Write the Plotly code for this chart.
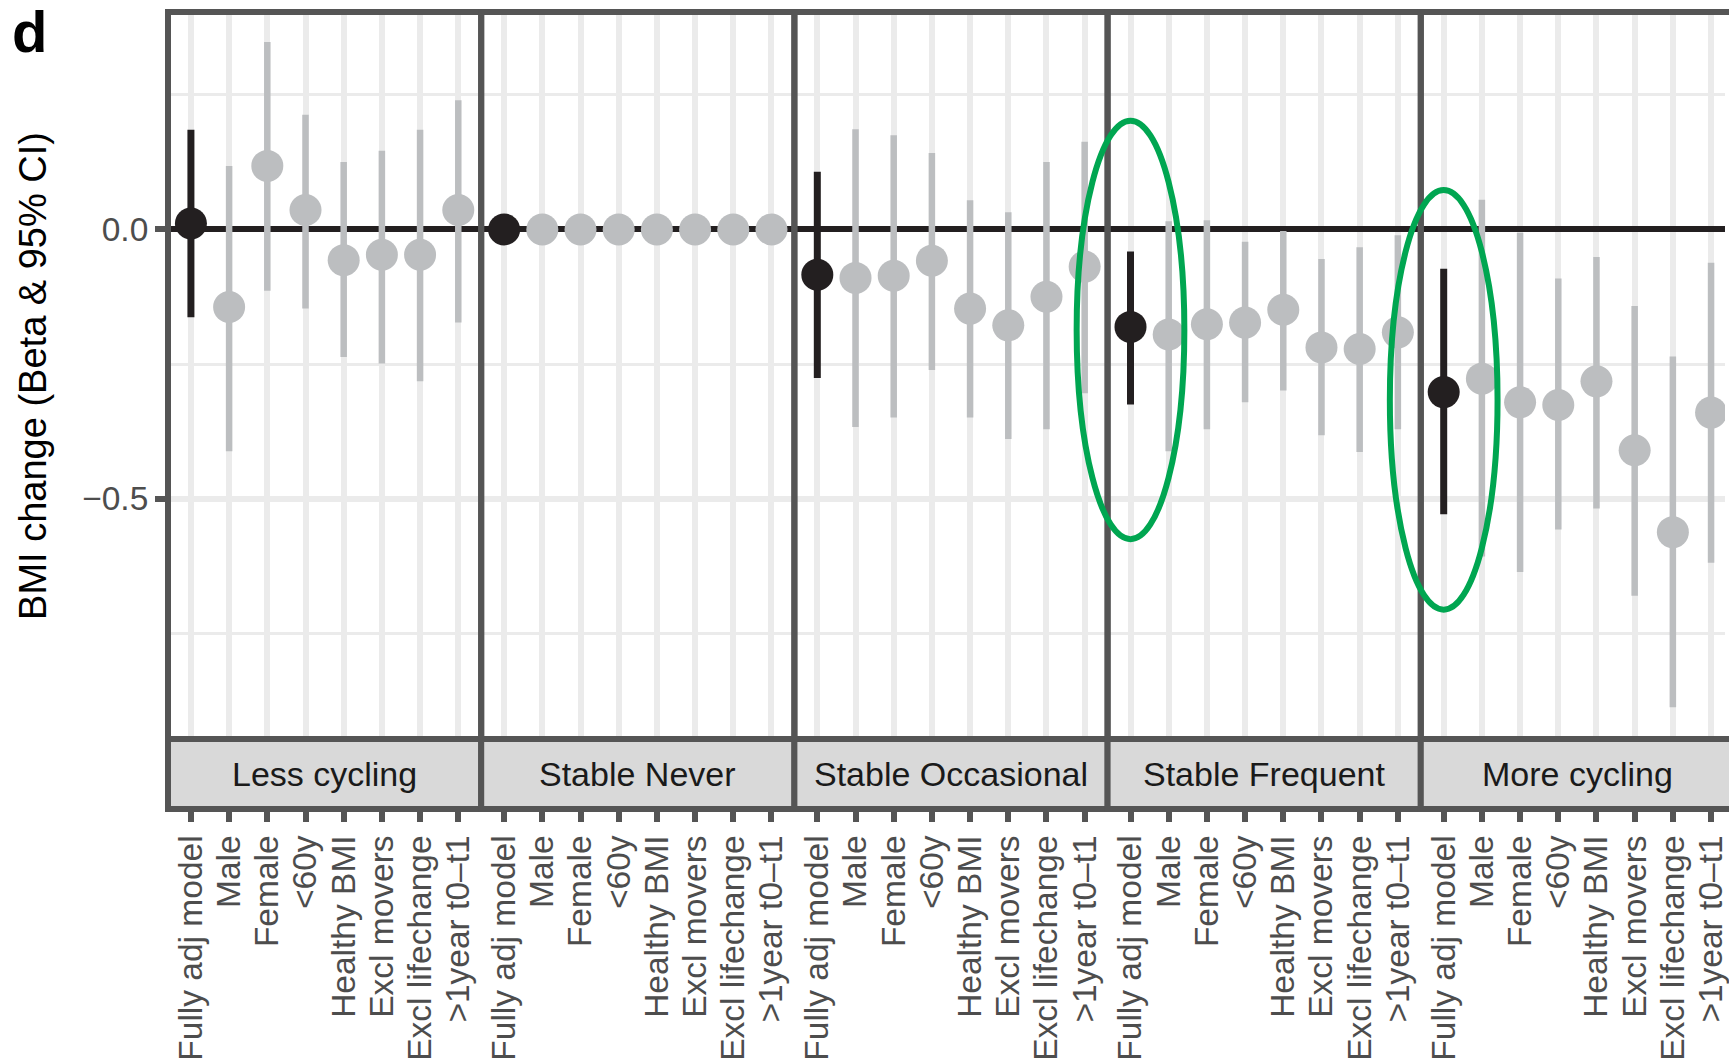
import plotly.graph_objects as go

# ---------------- data ----------------
categories = ["Fully adj model", "Male", "Female", "<60y", "Healthy BMI",
              "Excl movers", "Excl lifechange", ">1year t0\u2013t1"]
groups = ["Less cycling", "Stable Never", "Stable Occasional", "Stable Frequent", "More cycling"]

less_beta = [0.011, -0.144, 0.118, 0.036, -0.057, -0.047, -0.047, 0.036]
less_lo = [-0.163, -0.412, -0.114, -0.147, -0.237, -0.249, -0.282, -0.173]
less_hi = [0.185, 0.118, 0.348, 0.213, 0.125, 0.146, 0.185, 0.240]

never_beta = [0.0, 0.0, 0.0, 0.0, 0.0, 0.0, 0.0, 0.0]
never_lo = [0.0, 0.0, 0.0, 0.0, 0.0, 0.0, 0.0, 0.0]
never_hi = [0.0, 0.0, 0.0, 0.0, 0.0, 0.0, 0.0, 0.0]

occ_beta = [-0.084, -0.090, -0.086, -0.058, -0.147, -0.178, -0.125, -0.069]
occ_lo = [-0.276, -0.367, -0.349, -0.261, -0.349, -0.389, -0.371, -0.304]
occ_hi = [0.107, 0.186, 0.175, 0.142, 0.054, 0.032, 0.125, 0.163]

freq_beta = [-0.181, -0.195, -0.176, -0.173, -0.149, -0.219, -0.222, -0.191]
freq_lo = [-0.325, -0.412, -0.371, -0.321, -0.299, -0.382, -0.413, -0.371]
freq_hi = [-0.041, 0.015, 0.017, -0.023, -0.003, -0.055, -0.033, -0.011]

more_beta = [-0.302, -0.277, -0.321, -0.326, -0.282, -0.410, -0.562, -0.340]
more_lo = [-0.529, -0.607, -0.636, -0.557, -0.518, -0.680, -0.887, -0.619]
more_hi = [-0.073, 0.055, -0.006, -0.091, -0.051, -0.142, -0.236, -0.062]

betas = [less_beta, never_beta, occ_beta, freq_beta, more_beta]
lows = [less_lo, never_lo, occ_lo, freq_lo, more_lo]
highs = [less_hi, never_hi, occ_hi, freq_hi, more_hi]

y_range = [-0.9462, 0.4037]
y_ticks = [-0.5, 0.0]

# highlighted estimates (green ellipses): panel index, category index, y-extent
highlights = [(3, 0, -0.575, 0.202), (4, 0, -0.706, 0.073)]

# ---------------- geometry / style ----------------
W, H = 1729, 1061
L, T, B = 168, 12, 251
plot_w = W - L
plot_h = H - T - B
panel_px = 314.0
strip_px = 70
unit_px = panel_px / 8.2
ydom0 = strip_px / plot_h

BORDER = "#555555"
GRID = "#ebebeb"
GREY = "#bcbec0"
BLACK = "#231f20"
FONT = "Liberation Sans"

fig = go.Figure()

for i, g in enumerate(groups):
    n = i + 1
    xa = "x" if n == 1 else f"x{n}"
    ya = "y" if n == 1 else f"y{n}"
    beta, lo, hi = betas[i], lows[i], highs[i]
    idx_grey = list(range(1, len(categories)))
    idx_black = [0]
    for idx, col, thick in ((idx_grey, GREY, 6.5), (idx_black, BLACK, 7)):
        fig.add_trace(go.Scatter(
            x=[categories[k] for k in idx],
            y=[beta[k] for k in idx],
            mode="markers",
            marker=dict(size=32, color=col, line=dict(width=0)),
            error_y=dict(type="data", symmetric=False,
                         array=[hi[k] - beta[k] for k in idx],
                         arrayminus=[beta[k] - lo[k] for k in idx],
                         color=col, thickness=thick, width=0),
            xaxis=xa, yaxis=ya, showlegend=False, hoverinfo="skip",
        ))

layout = dict(
    width=W, height=H,
    margin=dict(l=L, r=0, t=T, b=B, pad=0),
    paper_bgcolor="white", plot_bgcolor="white",
    showlegend=False,
    font=dict(family=FONT, color="#4d4d4d"),
)

shapes = []
annotations = []
xranges = []
for i, g in enumerate(groups):
    n = i + 1
    suffix = "" if n == 1 else str(n)
    d0 = i * panel_px / plot_w
    if i < len(groups) - 1:
        d1 = (i + 1) * panel_px / plot_w
        xr = [-0.6, 7.6]
    else:
        d1 = 1.0
        xr = [-0.6, -0.6 + (plot_w - i * panel_px) / unit_px]
    xranges.append(xr)
    layout["xaxis" + suffix] = dict(
        domain=[d0, d1], range=xr, type="category",
        categoryorder="array", categoryarray=categories,
        tickmode="array", tickvals=categories, ticktext=categories,
        anchor="free", position=0,
        showgrid=True, gridcolor=GRID, gridwidth=6,
        zeroline=False, showline=False,
        ticks="outside", ticklen=12, tickwidth=6, tickcolor=BORDER,
        tickangle=-90, tickfont=dict(family=FONT, size=33.5, color="#4d4d4d"),
    )
    layout["yaxis" + suffix] = dict(
        domain=[ydom0, 1], range=y_range, anchor="x" + suffix,
        tickmode="array", tickvals=y_ticks, tickformat=".1f",
        showgrid=True, gridcolor=GRID, gridwidth=6,
        minor=dict(dtick=0.25, tick0=0, showgrid=True, gridcolor=GRID, gridwidth=3, ticks=""),
        zeroline=True, zerolinecolor=BLACK, zerolinewidth=6,
        showline=False,
        ticks="outside" if n == 1 else "", ticklen=12, tickwidth=6, tickcolor=BORDER,
        showticklabels=(n == 1),
        tickfont=dict(family=FONT, size=33.5, color="#4d4d4d"),
    )
    x1 = 1.0 if i < len(groups) - 1 else 1.05
    # panel border
    shapes.append(dict(type="rect", xref=f"x{suffix} domain", yref=f"y{suffix} domain",
                       x0=0, x1=x1, y0=0, y1=1, line=dict(color=BORDER, width=6),
                       fillcolor="rgba(0,0,0,0)", layer="above"))
    # strip
    shapes.append(dict(type="rect", xref=f"x{suffix} domain", yref="paper",
                       x0=0, x1=x1, y0=0, y1=ydom0, line=dict(color=BORDER, width=6),
                       fillcolor="#d9d9d9", layer="above"))
    annotations.append(dict(text=g, xref=f"x{suffix} domain", yref="paper",
                            x=4.1 / (xr[1] - xr[0]), y=ydom0 / 2,
                            xanchor="center", yanchor="middle", showarrow=False,
                            font=dict(family=FONT, size=34, color="#1a1a1a")))

# green ellipses
for (pi, ci, ylo, yhi) in highlights:
    suffix = "" if pi == 0 else str(pi + 1)
    xr = xranges[pi]
    half = 1.41
    fx0 = (ci - half - xr[0]) / (xr[1] - xr[0])
    fx1 = (ci + half - xr[0]) / (xr[1] - xr[0])
    fy0 = (ylo - y_range[0]) / (y_range[1] - y_range[0])
    fy1 = (yhi - y_range[0]) / (y_range[1] - y_range[0])
    shapes.append(dict(type="circle", xref=f"x{suffix} domain", yref=f"y{suffix} domain",
                       x0=fx0, x1=fx1, y0=fy0, y1=fy1,
                       line=dict(color="#00a651", width=6), layer="above"))

# y-axis title
annotations.append(dict(text="BMI change (Beta &amp; 95% CI)", xref="paper", yref="paper",
                        x=(32 - L) / plot_w, y=(810 - 376) / plot_h,
                        xanchor="center", yanchor="middle", textangle=-90, showarrow=False,
                        font=dict(family=FONT, size=38, color="#000000")))
# panel letter
annotations.append(dict(text="<b>d</b>", xref="paper", yref="paper",
                        x=(10 - L) / plot_w, y=(810 - 32) / plot_h,
                        xanchor="left", yanchor="middle", showarrow=False,
                        font=dict(family=FONT, size=58, color="#000000")))

layout["shapes"] = shapes
layout["annotations"] = annotations
fig.update_layout(**layout)

fig.write_html("out.html", config={"displayModeBar": False})
